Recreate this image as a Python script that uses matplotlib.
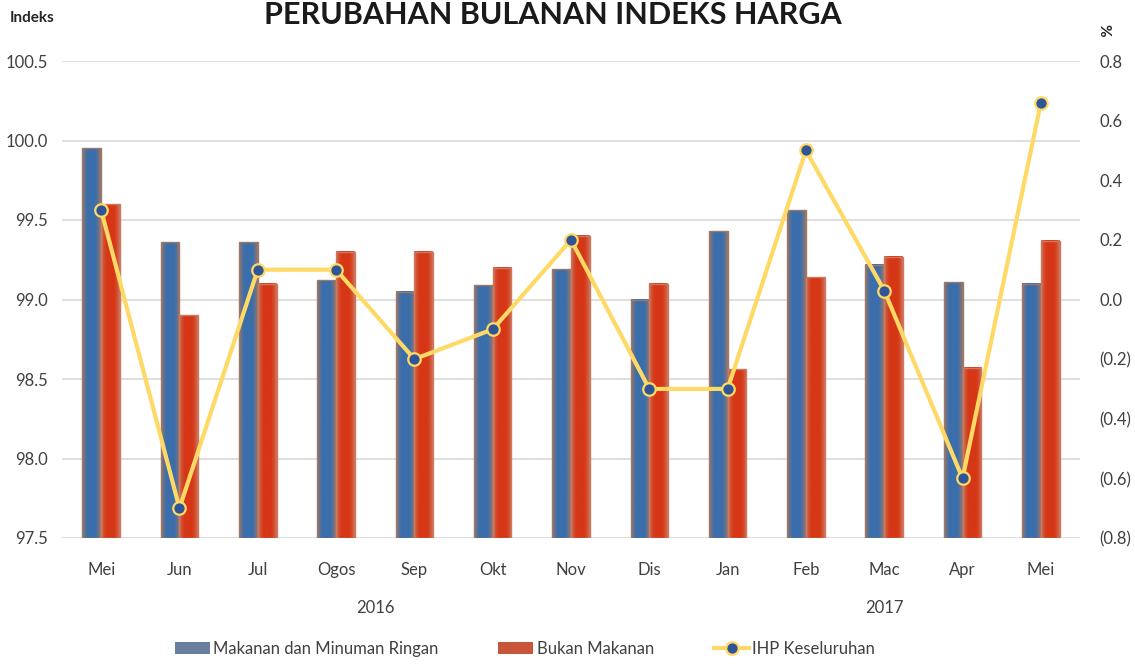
import numpy as np
import matplotlib
matplotlib.use("Agg")
import matplotlib.pyplot as plt
from matplotlib.patches import Patch
from matplotlib.lines import Line2D
from matplotlib.ticker import FuncFormatter
from matplotlib.transforms import blended_transform_factory

plt.rcParams['font.family'] = ['Lato', 'DejaVu Sans']

# data
bulan = ['Mei', 'Jun', 'Jul', 'Ogos', 'Sep', 'Okt', 'Nov', 'Dis', 'Jan', 'Feb', 'Mac', 'Apr', 'Mei']
tahun = ['2016', '2017']
tahun_bil = [8, 5]  # number of months in each year group
makanan = [99.95, 99.36, 99.36, 99.12, 99.05, 99.09, 99.19, 99.00, 99.43, 99.56, 99.22, 99.11, 99.10]
bukan_makanan = [99.60, 98.90, 99.10, 99.30, 99.30, 99.20, 99.40, 99.10, 98.56, 99.14, 99.27, 98.57, 99.37]
ihp = [0.3, -0.7, 0.1, 0.1, -0.2, -0.1, 0.2, -0.3, -0.3, 0.5, 0.03, -0.6, 0.66]

txt = '#404040'
biru_tengah = np.array([58, 110, 172]) / 255
biru_tepi = np.array([160, 120, 100]) / 255
merah_tengah = np.array([214, 55, 22]) / 255
merah_tepi = np.array([205, 120, 95]) / 255
kuning = '#FFD966'
biru_penanda = '#2F5597'


def gradient_bars(ax, bars, tengah, tepi):
    t = np.linspace(0, 1, 60)
    e = np.clip(1 - np.minimum(t, 1 - t) / 0.32, 0, 1) ** 1.6
    img = (tengah[None, :] * (1 - e[:, None]) + tepi[None, :] * e[:, None])[None, :, :]
    for r in bars:
        x, y, w, h = r.get_x(), r.get_y(), r.get_width(), r.get_height()
        ax.imshow(img, extent=[x, x + w, y, y + h], aspect='auto',
                  interpolation='bicubic', zorder=2)
        r.set_facecolor('none')
        r.set_edgecolor(tepi)
        r.set_linewidth(1.0)
        r.set_zorder(3)


fig = plt.figure(figsize=(11.35, 6.64), dpi=100)
ax = fig.add_axes([62 / 1135, 126 / 664, 1018 / 1135, 477 / 664])

x = np.arange(len(bulan))
w = 0.24
b1 = ax.bar(x - w / 2, np.array(makanan) - 97.5, w, bottom=97.5)
b2 = ax.bar(x + w / 2, np.array(bukan_makanan) - 97.5, w, bottom=97.5)
gradient_bars(ax, b1, biru_tengah, biru_tepi)
gradient_bars(ax, b2, merah_tengah, merah_tepi)

ax.set_xlim(-0.5, len(bulan) - 0.5)
ax.set_ylim(97.5, 100.5)
ax.set_yticks(np.arange(97.5, 100.51, 0.5))
ax.yaxis.set_major_formatter(FuncFormatter(lambda v, p: f"{v:.1f}"))
ax.grid(axis='y', color='#D9D9D9', lw=1.2, zorder=0)
ax.set_axisbelow(True)
for s in ax.spines.values():
    s.set_visible(False)
ax.set_xticks(x)
ax.set_xticklabels(bulan)
ax.tick_params(axis='both', length=0, labelsize=12, colors=txt)
ax.tick_params(axis='x', pad=17)
ax.tick_params(axis='y', pad=10)

# year labels
tr = blended_transform_factory(ax.transData, ax.transAxes)
mula = 0
for th, n in zip(tahun, tahun_bil):
    ax.text(mula + (n - 1) / 2, -0.147, th, transform=tr, ha='center', va='center',
            fontsize=12, color=txt)
    mula += n

ax2 = ax.twinx()
ax2.plot(x, ihp, color=kuning, lw=3, marker='o', markersize=9,
         markerfacecolor=biru_penanda, markeredgecolor=kuning, markeredgewidth=1.6, zorder=5)
ax2.set_ylim(-0.8, 0.8)
ax2.set_yticks(np.arange(-0.8, 0.81, 0.2))
ax2.yaxis.set_major_formatter(FuncFormatter(
    lambda v, p: f"({abs(v):.1f})" if v < -1e-9 else f"{abs(v):.1f}"))
for s in ax2.spines.values():
    s.set_visible(False)
ax2.tick_params(axis='y', length=0, labelsize=12, colors=txt, pad=14)

fig.text(10 / 1135, 1 - 18 / 664, 'Indeks', fontsize=11, fontweight='bold', color='#262626',
         ha='left', va='center')
fig.text(1103 / 1135, 1 - 30 / 664, '%', fontsize=11, fontweight='bold', color='#262626',
         ha='center', va='center', rotation=270)
fig.text(553 / 1135, 1 - 15 / 664, 'PERUBAHAN BULANAN INDEKS HARGA', fontsize=22,
         fontweight='bold', color='#1a1a1a', ha='center', va='center')

handles = [Patch(facecolor='#6A7F9E', edgecolor='none'),
           Patch(facecolor='#C8553A', edgecolor='none'),
           Line2D([], [], color=kuning, lw=3, marker='o', markersize=9,
                  markerfacecolor=biru_penanda, markeredgecolor=kuning, markeredgewidth=1.6)]
labels = ['Makanan dan Minuman Ringan', 'Bukan Makanan', 'IHP Keseluruhan']
fig.legend(handles, labels, loc='center', bbox_to_anchor=(525 / 1135, 1 - 649 / 664), ncol=3,
           frameon=False, fontsize=12, handlelength=2.1, handletextpad=0.2, columnspacing=3.6,
           labelcolor=txt)

fig.savefig('out.png', dpi=100)
